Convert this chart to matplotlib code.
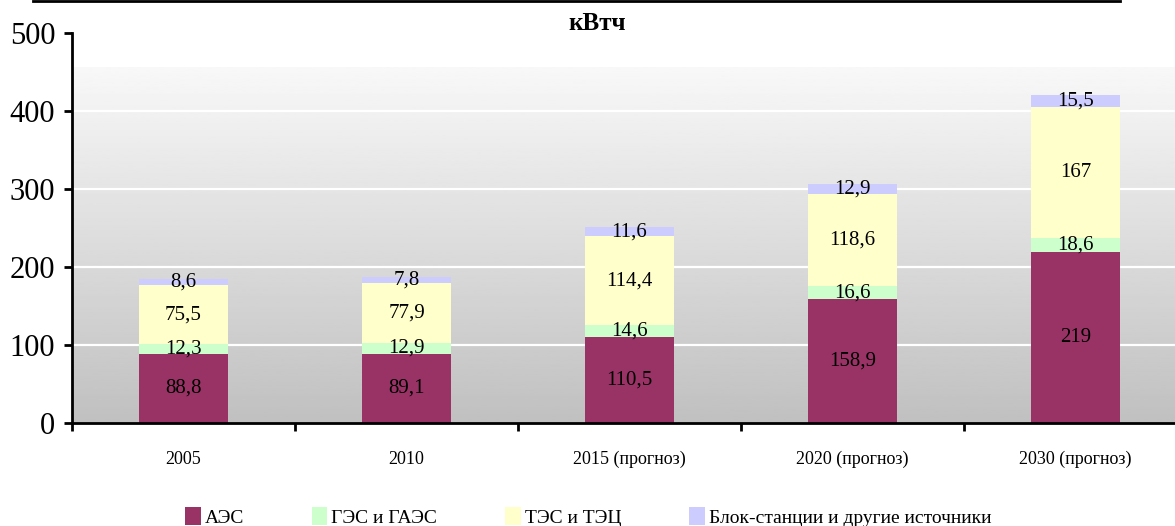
import matplotlib
matplotlib.use("Agg")
import matplotlib.pyplot as plt
import numpy as np
from matplotlib.lines import Line2D
from matplotlib.patches import Patch

plt.rcParams["font.family"] = ["Liberation Serif", "DejaVu Serif"]

years = ["2005", "2010", "2015 (прогноз)", "2020 (прогноз)", "2030 (прогноз)"]
series_names = ["АЭС", "ГЭС и ГАЭС", "ТЭС и ТЭЦ", "Блок-станции и другие источники"]
aes   = [88.8, 89.1, 110.5, 158.9, 219]
ges   = [12.3, 12.9, 14.6, 16.6, 18.6]
tes   = [75.5, 77.9, 114.4, 118.6, 167]
blok  = [8.6, 7.8, 11.6, 12.9, 15.5]
colors = ["#993366", "#CCFFCC", "#FFFFCC", "#CCCCFF"]

W, H = 1175, 526
fig = plt.figure(figsize=(W / 100, H / 100), dpi=100)
# plot area runs past the right edge of the figure
ax = fig.add_axes([72 / W, 103 / H, 1115 / W, 390 / H])

x = np.arange(len(years))
ax.set_xlim(-0.5, len(years) - 0.5)
ax.set_ylim(0, 500)

# grey gradient background
grad = np.linspace(0xc0, 0xf8, 256).reshape(-1, 1) / 255.0
ax.imshow(grad, cmap="gray", vmin=0, vmax=1, origin="lower", aspect="auto",
          extent=[-0.5, len(years) - 0.5, 0, 456], zorder=0)

for yv in [100, 200, 300, 400]:
    ax.axhline(yv, color="white", lw=1.6, zorder=1)

bottom = np.zeros(len(years))
for vals, col in zip([aes, ges, tes, blok], colors):
    vals = np.array(vals, dtype=float)
    ax.bar(x, vals, 0.40, bottom=bottom, color=col, zorder=2)
    for xi, b, v in zip(x, bottom, vals):
        ax.text(xi, b + v / 2, f"{v:g}".replace(".", ","), ha="center", va="center",
                fontsize=15, color="black", zorder=3)
    bottom += vals

for s in ["top", "right"]:
    ax.spines[s].set_visible(False)
for s in ["left", "bottom"]:
    ax.spines[s].set_linewidth(2)
    ax.spines[s].set_color("black")

ax.set_yticks([0, 100, 200, 300, 400, 500])
ax.tick_params(axis="y", direction="out", length=6, width=2, pad=6, labelsize=22)
ax.set_xticks(np.arange(-0.5, len(years), 1.0))
ax.set_xticklabels([])
ax.tick_params(axis="x", which="major", direction="out", length=6, width=2)
ax.set_xticks(x, minor=True)
ax.set_xticklabels(years, minor=True, fontsize=13)
ax.tick_params(axis="x", which="minor", length=0, pad=20)

fig.text(597 / W, 1 - 23 / H, "кВтч", ha="center", va="center",
         fontsize=18, fontweight="bold")
fig.add_artist(Line2D([33 / W, 1120 / W], [1 - 1 / H, 1 - 1 / H],
                      color="black", lw=2, transform=fig.transFigure))

handles = [Patch(facecolor=c, edgecolor="none") for c in colors]
fig.legend(handles, series_names, loc="center left",
           bbox_to_anchor=(185 / W, 9 / H), ncol=4, frameon=False,
           fontsize=14, handlelength=0.8, handleheight=1.0, handletextpad=0.2,
           columnspacing=3.5, borderaxespad=0, borderpad=0)

fig.savefig("out.png", dpi=100)
